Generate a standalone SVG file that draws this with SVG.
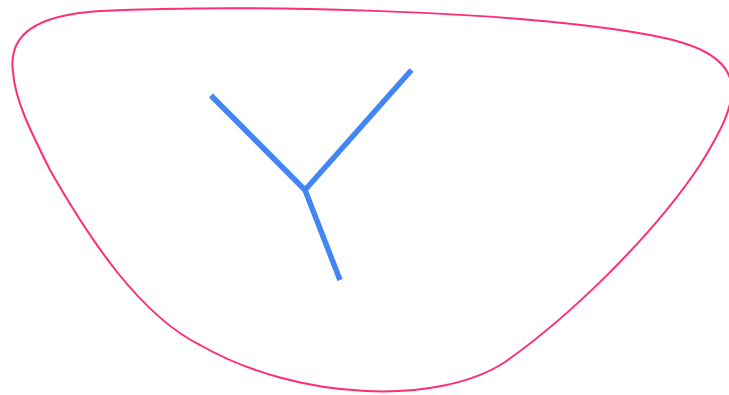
<svg xmlns="http://www.w3.org/2000/svg" width="729" height="395" viewBox="0 0 729 395">
<style>
.blob{fill:none;stroke:#ff2d78;stroke-width:2}
.edge{stroke:#4285f4;stroke-width:5.5;stroke-linecap:butt;fill:none}
</style>
<rect width="729" height="395" fill="#ffffff"/>
<g id="region">
<path class="blob" d="M 13 72 C 8 35 35 15 100 11 C 230 5 500 8 650 35 C 760 55 740 100 700 165 C 650 240 565 320 505 362 C 440 405 300 402 200 345 C 140 315 90 240 50 170 C 30 130 15 100 13 72 Z"/>
</g>
<g id="connectors">
<line class="edge" x1="211" y1="95.5" x2="305" y2="190"/>
<line class="edge" x1="411.5" y1="70" x2="305" y2="190"/>
<line class="edge" x1="305" y1="190" x2="340" y2="280"/>
</g>
</svg>
